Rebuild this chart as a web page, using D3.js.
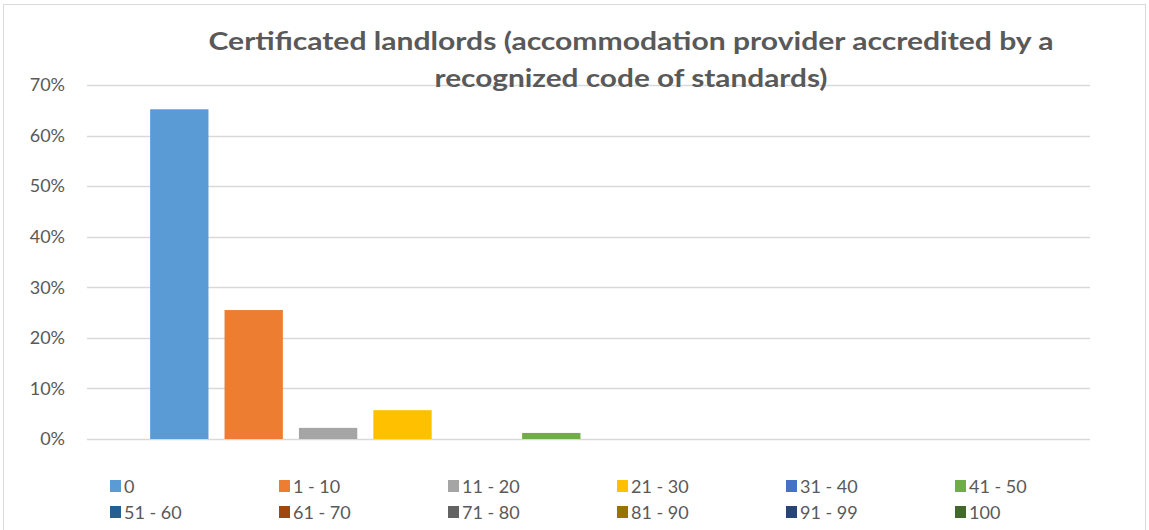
<!DOCTYPE html>
<html>
<head>
<title>Certificated landlords</title>
<script src="https://d3js.org/d3.v7.min.js"></script>
<style>
  body { margin: 0; background: #fff; }
  text { font-family: Lato, "Open Sans", sans-serif; }
</style>
</head>
<body>
<div id="chart"></div>
<script>
// data
var categories = ["0", "1 - 10", "11 - 20", "21 - 30", "31 - 40", "41 - 50",
                  "51 - 60", "61 - 70", "71 - 80", "81 - 90", "91 - 99", "100"];
var values = [0.652, 0.255, 0.022, 0.057, 0, 0.012, 0, 0, 0, 0, 0, 0];
var colors = ["#5B9BD5", "#ED7D31", "#A5A5A5", "#FFC000", "#4472C4", "#70AD47",
              "#255E91", "#9E480E", "#636363", "#997300", "#264478", "#43682B"];
var yTicks = [0, 0.1, 0.2, 0.3, 0.4, 0.5, 0.6, 0.7];
var titleLines = ["Certificated landlords (accommodation provider accredited by a",
                  "recognized code of standards)"];
var titleWidths = [845, 393];

var width = 1149, height = 530;
var margin = {left: 87, right: 59, top: 85, bottom: 91};

var svg = d3.select("#chart").append("svg")
  .attr("width", width)
  .attr("height", height);

// chart frame
svg.append("rect")
  .attr("x", 3.5).attr("y", 4.5)
  .attr("width", 1142).attr("height", 540)
  .attr("fill", "none")
  .attr("stroke", "#d9d9d9");

var y = d3.scaleLinear().domain([0, 0.7]).range([height - margin.bottom, margin.top]);

var x0 = d3.scaleBand().domain(["all"])
  .range([margin.left, width - margin.right])
  .paddingOuter(0.072);
var x1 = d3.scaleBand().domain(categories)
  .range([0, x0.bandwidth()])
  .paddingInner(0.216);

// gridlines
svg.append("g").selectAll("line")
  .data(yTicks)
  .enter().append("line")
  .attr("x1", margin.left).attr("x2", width - margin.right)
  .attr("y1", function(d) { return Math.round(y(d)) + 0.5; })
  .attr("y2", function(d) { return Math.round(y(d)) + 0.5; })
  .attr("stroke", "#d9d9d9")
  .attr("stroke-width", 1.5);

// y axis labels
var yAxis = d3.axisLeft(y).tickValues(yTicks).tickFormat(d3.format(".0%")).tickSize(0).tickPadding(22);
var ya = svg.append("g").attr("transform", "translate(" + margin.left + ",0)").call(yAxis);
ya.select(".domain").remove();
ya.selectAll("text")
  .attr("fill", "#595959")
  .style("font-size", "18px")
  .style("font-family", "Lato, sans-serif");

// bars
svg.append("g").selectAll("rect")
  .data(categories)
  .enter().append("rect")
  .attr("x", function(d) { return x0("all") + x1(d); })
  .attr("y", function(d, i) { return y(values[i]); })
  .attr("width", x1.bandwidth())
  .attr("height", function(d, i) { return y(0) - y(values[i]); })
  .attr("fill", function(d, i) { return colors[i]; });

// title
svg.append("g").selectAll("text")
  .data(titleLines)
  .enter().append("text")
  .attr("x", 631)
  .attr("y", function(d, i) { return 50 + i * 37; })
  .attr("text-anchor", "middle")
  .attr("fill", "#595959")
  .attr("textLength", function(d, i) { return titleWidths[i]; })
  .attr("lengthAdjust", "spacingAndGlyphs")
  .style("font-size", "25px")
  .style("font-weight", "bold")
  .text(function(d) { return d; });

// legend
var legend = svg.append("g").selectAll("g")
  .data(categories)
  .enter().append("g")
  .attr("transform", function(d, i) {
    return "translate(" + (110 + (i % 6) * 169) + "," + (486 + Math.floor(i / 6) * 26) + ")";
  });
legend.append("rect")
  .attr("x", 0).attr("y", -6)
  .attr("width", 11).attr("height", 12)
  .attr("fill", function(d, i) { return colors[i]; });
legend.append("text")
  .attr("x", 14).attr("y", 6.5)
  .attr("fill", "#595959")
  .style("font-size", "18px")
  .text(function(d) { return d; });
</script>
</body>
</html>
